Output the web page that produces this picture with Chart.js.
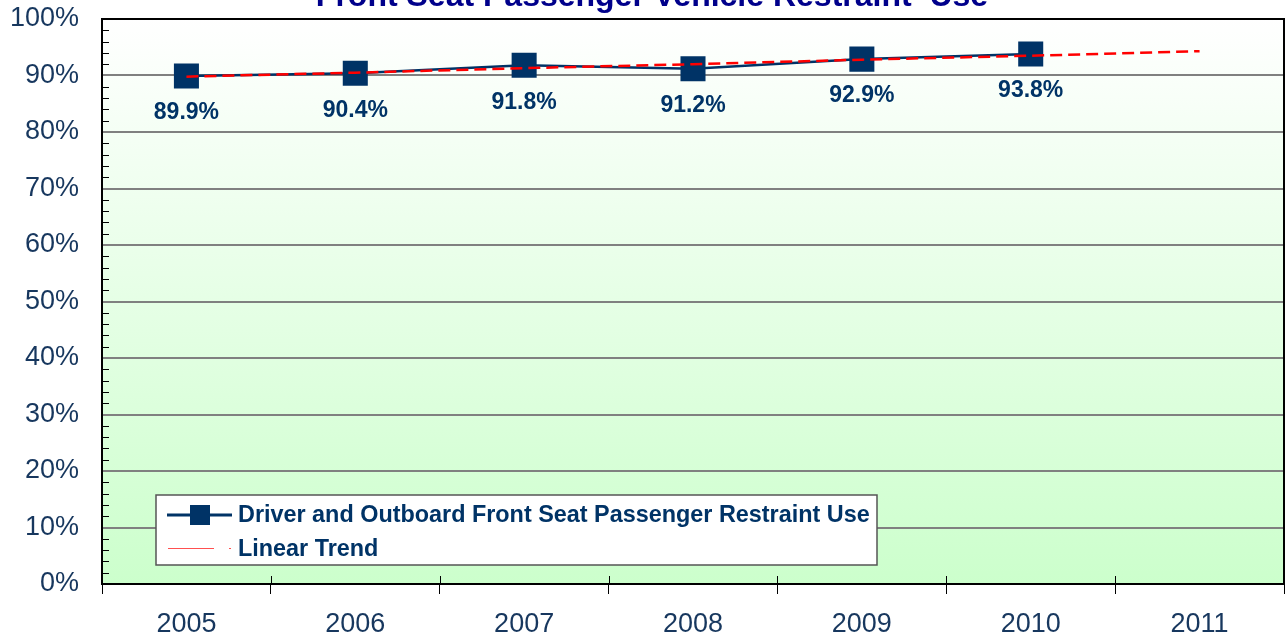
<!DOCTYPE html>
<html>
<head>
<meta charset="utf-8">
<script src="https://cdn.jsdelivr.net/npm/chart.js@4"></script>
<style>
  html, body { margin: 0; padding: 0; background: #fff; overflow: hidden; }
  #wrap { width: 1286px; height: 638px; position: relative; }
  #chart { display: block; }
</style>
</head>
<body>
<div id="wrap"><canvas id="chart"></canvas></div>
<script>
// datos
const years = ['2005', '2006', '2007', '2008', '2009', '2010', '2011'];
const restraintUse = [89.9, 90.4, 91.8, 91.2, 92.9, 93.8, null];
const linearTrend = [89.8, 90.5, 91.3, 92.0, 92.8, 93.5, 94.3];
const yTicks = [0, 10, 20, 30, 40, 50, 60, 70, 80, 90, 100];

const titleText = 'Front Seat Passenger Vehicle Restraint  Use';
const navy = '#003366';
const labelColor = '#17375e';
const font = 'Liberation Sans, Arial, sans-serif';
const plotRight = 1284;

// fondo degradado, titulo cortado, marcas menores, etiquetas y leyenda
const decor = {
    id: 'decor',
    beforeDraw(chart) {
        const { ctx, chartArea: a } = chart;
        const g = ctx.createLinearGradient(0, a.top, 0, a.bottom);
        g.addColorStop(0, '#ffffff');
        g.addColorStop(1, '#ccffcc');
        ctx.save();
        ctx.fillStyle = g;
        ctx.fillRect(a.left, a.top, a.right - a.left, a.bottom - a.top);
        ctx.restore();
    },
    afterDraw(chart) {
        const { ctx, chartArea: a, scales } = chart;
        ctx.save();

        // titulo (queda cortado arriba como en el original)
        ctx.fillStyle = '#00008b';
        ctx.font = 'bold 32px ' + font;
        ctx.textAlign = 'center';
        ctx.textBaseline = 'alphabetic';
        ctx.fillText(titleText, 652, 6);

        // borde superior y derecho del area
        ctx.strokeStyle = '#000';
        ctx.lineWidth = 2;
        ctx.beginPath();
        ctx.moveTo(a.left, a.top);
        ctx.lineTo(a.right, a.top);
        ctx.lineTo(a.right, a.bottom);
        ctx.stroke();

        // marcas menores del eje y
        ctx.lineWidth = 1;
        for (let v = 0; v <= 100; v += 2) {
            if (v % 10 === 0) continue;
            const y = Math.round(scales.y.getPixelForValue(v)) + 0.5;
            ctx.beginPath();
            ctx.moveTo(a.left, y);
            ctx.lineTo(a.left + 7, y);
            ctx.stroke();
        }
        // parte superior de las marcas del eje x
        const step = (a.right - a.left) / years.length;
        for (let i = 1; i < years.length; i++) {
            const x = Math.round(a.left + i * step) + 0.5;
            ctx.beginPath();
            ctx.moveTo(x, a.bottom - 8);
            ctx.lineTo(x, a.bottom);
            ctx.stroke();
        }

        // etiquetas de valores
        const meta = chart.getDatasetMeta(1);
        ctx.fillStyle = navy;
        ctx.font = 'bold 23px ' + font;
        ctx.textAlign = 'center';
        ctx.textBaseline = 'middle';
        meta.data.forEach((pt, i) => {
            if (restraintUse[i] == null) return;
            ctx.fillText(restraintUse[i].toFixed(1) + '%', pt.x, pt.y + 37);
        });

        // leyenda
        const lx = 156, ly = 495, lw = 721, lh = 70;
        ctx.fillStyle = '#fff';
        ctx.fillRect(lx, ly, lw, lh);
        ctx.strokeStyle = '#555';
        ctx.lineWidth = 1.5;
        ctx.strokeRect(lx, ly, lw, lh);

        const ds = chart.data.datasets;
        ctx.strokeStyle = navy;
        ctx.lineWidth = 3;
        ctx.beginPath();
        ctx.moveTo(167, 515);
        ctx.lineTo(232, 515);
        ctx.stroke();
        ctx.fillStyle = navy;
        ctx.fillRect(190, 505, 20, 20);

        ctx.strokeStyle = '#ff5050';
        ctx.lineWidth = 1;
        ctx.beginPath();
        ctx.moveTo(168, 548.5);
        ctx.lineTo(214, 548.5);
        ctx.stroke();
        ctx.fillStyle = '#ff5050';
        ctx.fillRect(229, 548, 2, 1);

        ctx.fillStyle = navy;
        ctx.font = 'bold 23.4px ' + font;
        ctx.textAlign = 'left';
        ctx.textBaseline = 'alphabetic';
        ctx.fillText(ds[1].label, 238, 522);
        ctx.fillText(ds[0].label, 238, 556);
        ctx.restore();
    }
};

const ctx = document.getElementById('chart').getContext('2d');
const chart = new Chart(ctx, {
    type: 'line',
    data: {
        labels: years,
        datasets: [
            {
                label: 'Linear Trend',
                data: linearTrend,
                borderColor: '#ff0000',
                borderWidth: 2.5,
                borderDash: [12, 6],
                pointRadius: 0,
                order: 0
            },
            {
                label: 'Driver and Outboard Front Seat Passenger Restraint Use',
                data: restraintUse,
                borderColor: navy,
                backgroundColor: navy,
                borderWidth: 2.5,
                pointStyle: 'rect',
                pointRadius: 17.7,
                pointBorderWidth: 0,
                order: 1
            }
        ]
    },
    options: {
        responsive: true,
        maintainAspectRatio: false,
        animation: false,
        layout: { autoPadding: false, padding: { top: 19, right: 2, left: 0, bottom: 0 } },
        plugins: {
            legend: { display: false },
            title: { display: false },
            tooltip: { enabled: false }
        },
        scales: {
            x: {
                offset: true,
                afterFit(s) {
                    s.height = 54;
                    s.paddingLeft = 0;
                    s.paddingRight = 0;
                },
                grid: {
                    offset: true,
                    drawOnChartArea: false,
                    color: '#000',
                    tickLength: 10
                },
                border: { color: '#000', width: 2 },
                ticks: {
                    color: labelColor,
                    font: { family: font, size: 27 },
                    padding: 14
                }
            },
            y: {
                min: 0,
                max: 100,
                afterFit(s) {
                    s.width = 102;
                    s.paddingTop = 0;
                    s.paddingBottom = 0;
                },
                afterBuildTicks(s) { s.ticks = yTicks.map(v => ({ value: v })); },
                grid: { color: '#808080', lineWidth: 2, drawTicks: false },
                border: { color: '#000', width: 2 },
                ticks: {
                    color: labelColor,
                    font: { family: font, size: 27 },
                    padding: 23,
                    callback: v => v + '%'
                }
            }
        }
    },
    plugins: [decor]
});

// ajustar el borde derecho del area si la libreria reserva espacio de mas
const diff = plotRight - chart.chartArea.right;
if (Math.abs(diff) > 0.5) {
    chart.options.layout.padding.right -= diff;
    chart.update();
}
</script>
</body>
</html>
